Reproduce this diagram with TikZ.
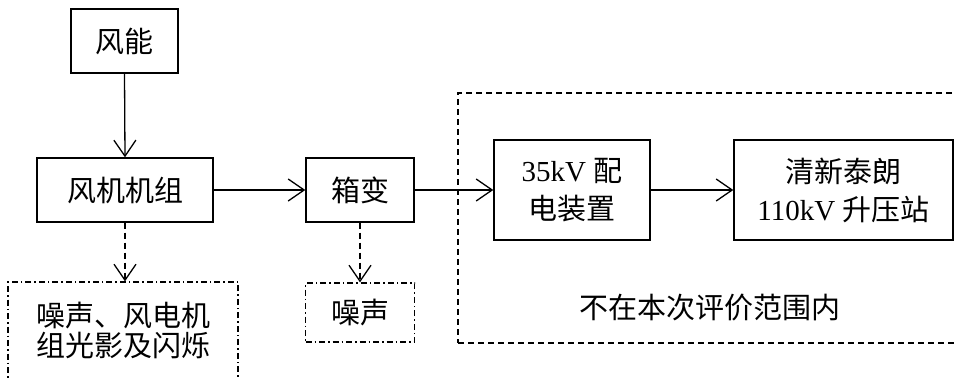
\documentclass[tikz,border=0pt]{standalone}
\usepackage{fontspec}
\setmainfont{Liberation Serif}
\newfontfamily\cjk{Noto Sans CJK SC}
\usetikzlibrary{arrows.meta}
\begin{document}
\begin{tikzpicture}[x=1pt,y=-1pt,
  box/.style={draw,line width=1.4pt,rectangle,inner sep=0pt,align=center,
    font=\fontsize{29}{38}\selectfont\cjk},
  dbox/.style={box,line width=1.3pt,dash pattern=on 6pt off 3pt on 1.5pt off 3pt},
  bigbox/.style={draw,line width=1.3pt,dash pattern=on 6pt off 4pt,rectangle,inner sep=0pt},
  arr/.style={line width=1.3pt,-{Straight Barb[length=16pt,width=22pt,line width=1.3pt]}},
  darr/.style={arr,dash pattern=on 6pt off 4pt}]
\useasboundingbox (0,0) rectangle (955,378);
\clip (0,0) rectangle (955,378);
\fill[white] (0,0) rectangle (955,378);

\node[bigbox,minimum width=512pt,minimum height=250pt] (range) at (714,218) {};
\node[font=\fontsize{29}{32}\selectfont\cjk] (rangelbl) at (710,308) {不在本次评价范围内};

\node[box,minimum width=107pt,minimum height=64pt] (wind) at (124.5,41) {风能};
\node[box,minimum width=176pt,minimum height=64pt] (unit) at (125,190) {风机机组};
\node[box,minimum width=108pt,minimum height=64pt] (xb) at (360,190) {箱变};
\node[dbox,minimum width=109pt,minimum height=59pt] (noise2) at (360,312.5) {噪声};
\node[dbox,minimum width=230pt,minimum height=130pt] (noise1) at (123,347) {};
\node[font=\fontsize{29}{30}\selectfont\cjk,align=center] (noise1txt) at (123,330) {噪声、风电机\\组光影及闪烁};
\node[box,minimum width=156pt,minimum height=100pt] (dist) at (572,190)
  {{\rmfamily 35kV }配\\电装置};
\node[box,minimum width=219pt,minimum height=100pt] (station) at (843.5,190)
  {清新泰朗\\{\rmfamily 110kV }升压站};

\draw[arr] (wind.south) -- (unit.north);
\draw[arr] (unit.east) -- (xb.west);
\draw[arr] (xb.east) -- (dist.west);
\draw[arr] (dist.east) -- (station.west);
\draw[darr] (unit.south) -- (unit.south |- noise1.north);
\draw[darr] (xb.south) -- (xb.south |- noise2.north);
\end{tikzpicture}
\end{document}
